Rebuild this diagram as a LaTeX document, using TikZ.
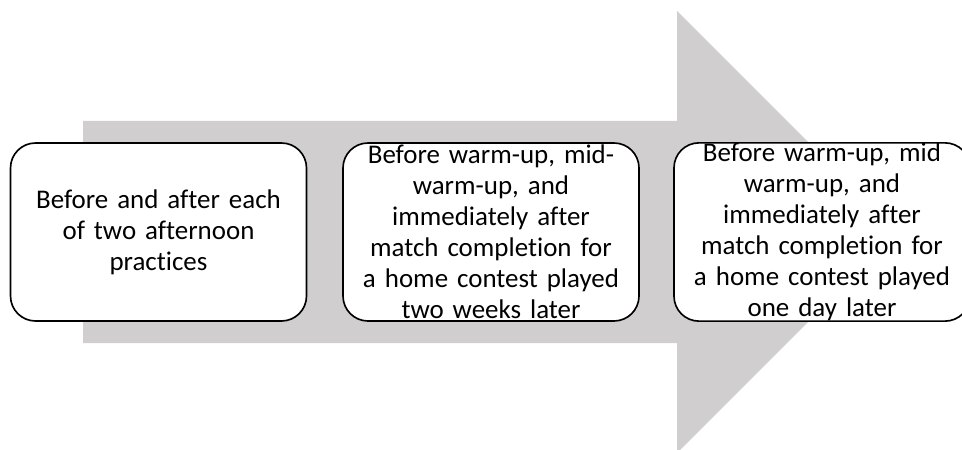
\documentclass[tikz,border=0pt]{standalone}
\usepackage{fontspec}
\setmainfont{Carlito}[Ligatures=NoCommon]
\usepackage{tikz}
\usetikzlibrary{positioning}
\usepackage{xcolor}
\definecolor{arrowgray}{HTML}{D0CECE}

\begin{document}
\begin{tikzpicture}[x=1cm,y=1cm]
  \tikzstyle{stage}=[rectangle, rounded corners=0.75cm, line width=1.4pt, draw=black, fill=white, minimum width=8.88cm, minimum height=5.34cm, text width=8.6cm, align=center, inner sep=0pt, font=\fontsize{23}{26.5}\selectfont]
  \useasboundingbox (0,0) rectangle (28.86,13.47);
  \clip (0,0) rectangle (28.86,13.47);
  % big process arrow behind the boxes
  \fill[arrowgray] (2.49,9.84) -- (20.31,9.84) -- (20.31,13.14) -- (26.94,6.51) -- (20.31,-0.12) -- (20.31,3.18) -- (2.49,3.18) -- cycle;
  \node[stage] (practice) at (4.755,6.51) {Before and after each\\of two afternoon\\practices};
  \node[stage] (twoweeks) at (14.73,6.51) {Before warm-up, mid-\\warm-up, and\\immediately after\\match completion for\\a home contest played\\two weeks later};
  \node[stage] (oneday) at (24.66,6.51) {Before warm-up, mid\\warm-up, and\\immediately after\\match completion for\\a home contest played\\one day later};
\end{tikzpicture}
\end{document}
